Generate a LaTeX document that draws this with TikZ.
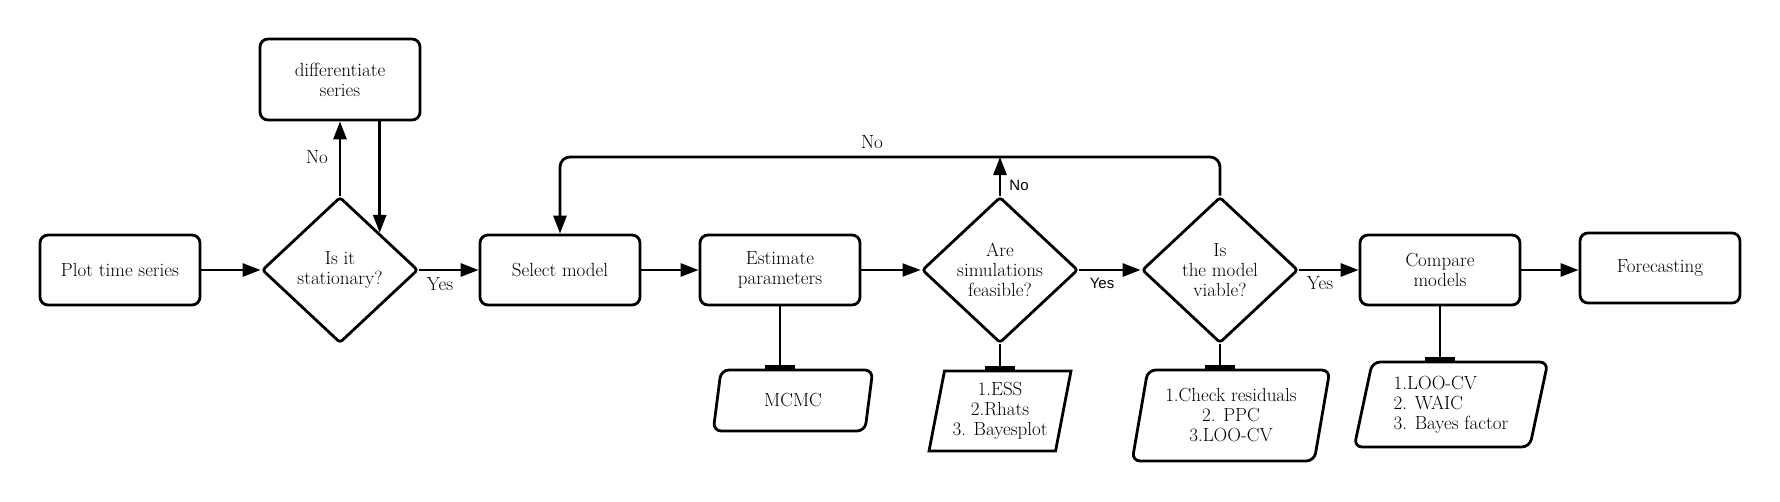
\documentclass[tikz,border=0pt]{standalone}
\usepackage{fontspec}
\newfontfamily\sansf{Liberation Sans}
\usetikzlibrary{arrows.meta,shapes.geometric}
\begin{document}
\begin{tikzpicture}[x=1pt,y=-1pt,
  every node/.style={font=\fontsize{19}{20}\selectfont},
  box/.style={draw, line width=2.8pt, rounded corners=8pt, minimum width=160pt, minimum height=70pt, align=center, inner sep=0pt},
  dec/.style={draw, diamond, line width=2.8pt, rounded corners=3pt, minimum width=156pt, minimum height=146pt, inner sep=0pt},
  io/.style={draw, trapezium, trapezium left angle=77, trapezium right angle=103, trapezium stretches=true, line width=2.8pt, inner sep=0pt},
  arr/.style={line width=2.8pt, -{Triangle[length=18pt,width=13pt]}},
  tee/.style={line width=2.6pt, -{Rectangle[length=4pt,width=30pt]}},
  lbl/.style={inner sep=0pt},
  slbl/.style={inner sep=0pt, font=\sansf\fontsize{15}{17}\selectfont}
]
\useasboundingbox (0,0) rectangle (1780,501);
% main row
\node[box] (plot) at (120,270) {Plot time series};
\node[dec, label={[lbl,align=center,name=statt]center:Is it\\stationary?}] (stat) at (340,270) {};
\node[box, minimum height=81pt] (diff) at (340,79.5) {differentiate\\series};
\node[box] (sel) at (560,270) {Select model};
\node[box] (est) at (780,270) {Estimate\\parameters};
\node[dec, label={[lbl,align=center,name=simst]center:Are\\simulations\\feasible?}] (sims) at (1000,270) {};
\node[dec, label={[lbl,align=center,name=viabt]center:Is\\the model\\viable?}] (viab) at (1220,270) {};
\node[box] (comp) at (1440,270) {Compare\\models};
\node[box] (fore) at (1660,268) {Forecasting};
% lower parallelograms
\node[io, rounded corners=8pt, minimum width=160pt, minimum height=61pt] (mcmc) at (793,400.5) {MCMC};
\node[io, minimum width=142pt, minimum height=80pt, align=center] (ess) at (1000,411) {1.ESS\\2.Rhats\\3. Bayesplot};
\node[io, rounded corners=8pt, minimum width=198pt, minimum height=91pt, align=center] (chk) at (1231,415.5) {1.Check residuals\\2. PPC\\3.LOO-CV};
\node[io, rounded corners=8pt, minimum width=194pt, minimum height=85pt, align=left] (cmpl) at (1451,404.5) {1.LOO-CV\\2. WAIC\\3. Bayes factor};
% connectors
\coordinate (looptop) at (1220,157);
\draw[arr] (plot.east) -- (stat.west);
\draw[arr] (stat.north) -- (diff.south);
\draw[arr] (diff.south -| stat.north east) -- (stat.north east);
\draw[arr] (stat.east) -- (sel.west);
\draw[arr] (sel.east) -- (est.west);
\draw[arr, line width=2pt] (est.east) -- (sims.west);
\draw[arr] (sims.east) -- (viab.west);
\draw[arr] (viab.east) -- (comp.west);
\draw[arr] (comp.east) -- (comp.east -| fore.west);
\draw[arr] (sims.north) -- (sims.north |- looptop);
\draw[arr, rounded corners=10pt] (viab.north) -- (looptop) -| (sel.north);
\draw[tee] (est.south) -- (est.south |- mcmc.north);
\draw[tee, line width=2.2pt] (sims.south) -- (sims.south |- ess.north);
\draw[tee, line width=2.2pt] (viab.south) -- (viab.south |- chk.north);
\draw[tee] (comp.south) -- (comp.south |- cmpl.north);
% labels
\node[lbl] (no1) at (317,157) {No};
\node[lbl] (yes1) at (440,284) {Yes};
\node[lbl] (no2) at (872,142) {No};
\node[slbl] (no3) at (1019,185) {No};
\node[slbl] (yes2) at (1102,283) {Yes};
\node[lbl] (yes3) at (1320,283) {Yes};
\end{tikzpicture}
\end{document}
